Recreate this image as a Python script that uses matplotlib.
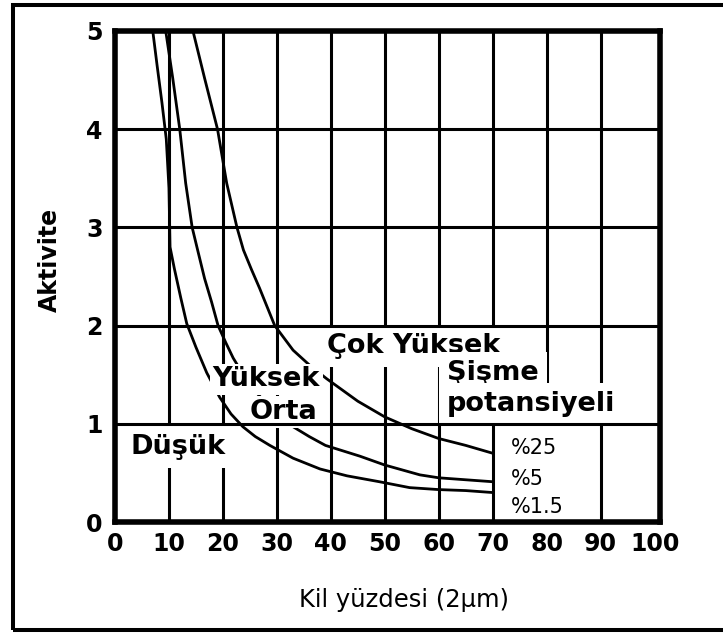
import matplotlib
matplotlib.use("Agg")
import matplotlib.pyplot as plt
from matplotlib.patches import Rectangle

# ---- data ----
c25_x = [14.45, 16.6, 19.0, 20.7, 22.6, 23.8, 25.3, 26.8, 29.6, 33.0, 36.0, 39.2, 45.0, 50.0, 55.0, 60.0, 65.0, 70.0]
c25_y = [5.0, 4.52, 4.0, 3.45, 3.0, 2.77, 2.57, 2.38, 2.0, 1.75, 1.6, 1.46, 1.23, 1.07, 0.95, 0.85, 0.78, 0.70]

c5_x = [9.4, 10.7, 12.0, 13.1, 14.3, 15.4, 16.6, 17.9, 19.1, 20.5, 21.9, 24.0, 26.5, 29.5, 33.0, 36.0, 39.0, 45.4, 50.0, 56.5, 60.0, 65.0, 70.0]
c5_y = [5.0, 4.52, 4.0, 3.45, 3.0, 2.75, 2.48, 2.24, 2.0, 1.83, 1.67, 1.48, 1.3, 1.12, 0.97, 0.87, 0.78, 0.67, 0.58, 0.48, 0.45, 0.43, 0.41]

c15_x = [7.0, 7.8, 8.7, 9.5, 10.0, 10.2, 11.0, 12.2, 13.3, 15.0, 17.0, 19.4, 21.5, 23.7, 26.0, 28.7, 33.0, 38.0, 43.0, 49.0, 54.6, 60.0, 65.0, 70.0]
c15_y = [5.0, 4.65, 4.27, 3.9, 3.4, 2.8, 2.58, 2.28, 2.02, 1.78, 1.52, 1.27, 1.1, 0.97, 0.87, 0.78, 0.65, 0.54, 0.47, 0.41, 0.35, 0.33, 0.32, 0.30]

x_ticks = [0, 10, 20, 30, 40, 50, 60, 70, 80, 90, 100]
y_ticks = [0, 1, 2, 3, 4, 5]
v_grid = [10, 20, 30, 40, 50, 60, 70, 80, 90]
h_grid = [1, 2, 3, 4]

curve_labels = ["%25", "%5", "%1.5"]
curve_label_y = [0.69, 0.38, 0.09]
curve_label_x = 73.4

x_label = "Kil yüzdesi (2µm)"
y_label = "Aktivite"

# ---- figure ----
W, H = 723, 633
fig = plt.figure(figsize=(W / 100, H / 100), dpi=100)
fig.patch.set_facecolor("white")

L, R, T, B = 115, 660, 31, 522
ax = fig.add_axes([L / W, 1 - B / H, (R - L) / W, (B - T) / H])
ax.set_xlim(0, 101)
ax.set_ylim(0, 5)

for v in v_grid:
    ax.axvline(v, color="black", lw=2.2, zorder=1)
for h in h_grid:
    ax.axhline(h, color="black", lw=2.2, zorder=3)

for xs, ys in [(c25_x, c25_y), (c5_x, c5_y), (c15_x, c15_y)]:
    ax.plot(xs, ys, color="black", lw=2.0, zorder=1.5, solid_joinstyle="round")

def box(pad):
    return dict(boxstyle=f"square,pad={pad}", fc="white", ec="none")

lab_kw = dict(fontsize=19.5, fontweight="bold", ha="left", va="baseline", zorder=2)
ax.text(2.8, 0.69, "Düşük", bbox=box(0.3), **lab_kw)
ax.text(18.1, 1.38, "Yüksek", bbox=box(0.1), **lab_kw)
ax.text(25.0, 1.05, "Orta", bbox=box(0.12), **lab_kw)
ax.text(39.2, 1.72, "Çok Yüksek", bbox=box(0.3), **lab_kw)
ax.text(61.5, 1.445, "Şişme", bbox=box(0.3), **lab_kw)
ax.text(61.5, 1.13, "potansiyeli", bbox=box(0.3), **lab_kw)

pads = [0.6, 0.35, 0.5]
for lab, yy, pd in zip(curve_labels, curve_label_y, pads):
    ax.text(curve_label_x, yy, lab, fontsize=15, ha="left", va="baseline",
            zorder=2, bbox=box(pd))

ax.set_xticks(x_ticks)
ax.set_xticklabels([str(t) for t in x_ticks], fontweight="bold")
ax.set_yticks(y_ticks)
ax.set_yticklabels([str(t) for t in y_ticks], fontweight="bold")
ax.tick_params(axis="both", length=0, labelsize=17)
ax.tick_params(axis="x", pad=7)
ax.tick_params(axis="y", pad=9)

for sp in ax.spines.values():
    sp.set_linewidth(4)
    sp.set_color("black")
    sp.set_zorder(4)

fig.text(404 / W, 1 - 600 / H, x_label, fontsize=17.5, ha="center", va="center")
fig.text(50 / W, 1 - 260 / H, y_label, fontsize=17, fontweight="bold",
         rotation=90, ha="center", va="center")

fig.add_artist(Rectangle((13 / W, 1 - 630 / H), (726 - 13) / W, (630 - 5) / H,
                         transform=fig.transFigure, fill=False, lw=2.9,
                         ec="black", zorder=10))

fig.savefig("out.png", dpi=100, facecolor="white")
